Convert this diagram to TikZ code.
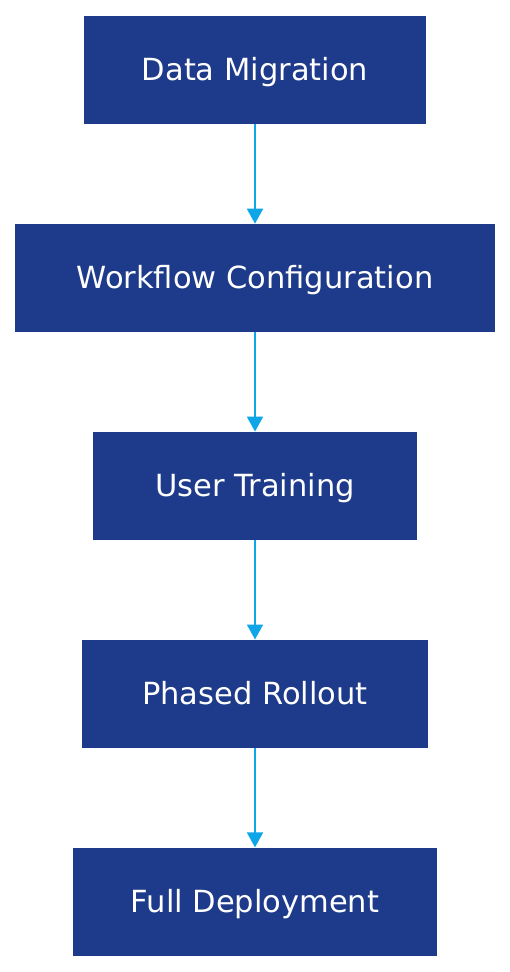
\documentclass[tikz,border=0pt]{standalone}
\usepackage{fontspec}
\setmainfont{DejaVu Sans}
\usepackage{xcolor}
\usetikzlibrary{arrows.meta, positioning}
\definecolor{StageFill}{HTML}{1E3A8A}
\definecolor{FlowInk}{HTML}{0EA5E9}

\begin{document}
\begin{tikzpicture}[
    x=1bp, y=1bp,
    font=\fontsize{30.5bp}{36bp}\selectfont,
    stage/.style={
      rectangle,
      fill=StageFill,
      text=white,
      minimum height=108bp,
      inner sep=0pt,
      text height=21bp,
      text depth=0bp,
    },
    flow/.style={
      draw=FlowInk,
      line width=1.8bp,
      -{Triangle[length=15bp, width=16bp]},
    },
  ]
    \useasboundingbox (0,0) rectangle (510,-972);
    \node[stage, minimum width=342bp] (migrate) at (255,-70) {Data Migration};
    \node[stage, minimum width=480bp, below=99.5bp of migrate] (config) {Workflow Configuration};
    \node[stage, minimum width=324bp, below=99.5bp of config] (train) {User Training};
    \node[stage, minimum width=346bp, below=99.5bp of train] (rollout) {Phased Rollout};
    \node[stage, minimum width=364bp, below=99.5bp of rollout] (deploy) {Full Deployment};
    % connectors
    \draw[flow] (migrate) -- (config);
    \draw[flow] (config) -- (train);
    \draw[flow] (train) -- (rollout);
    \draw[flow] (rollout) -- (deploy);
  \end{tikzpicture}
\end{document}
